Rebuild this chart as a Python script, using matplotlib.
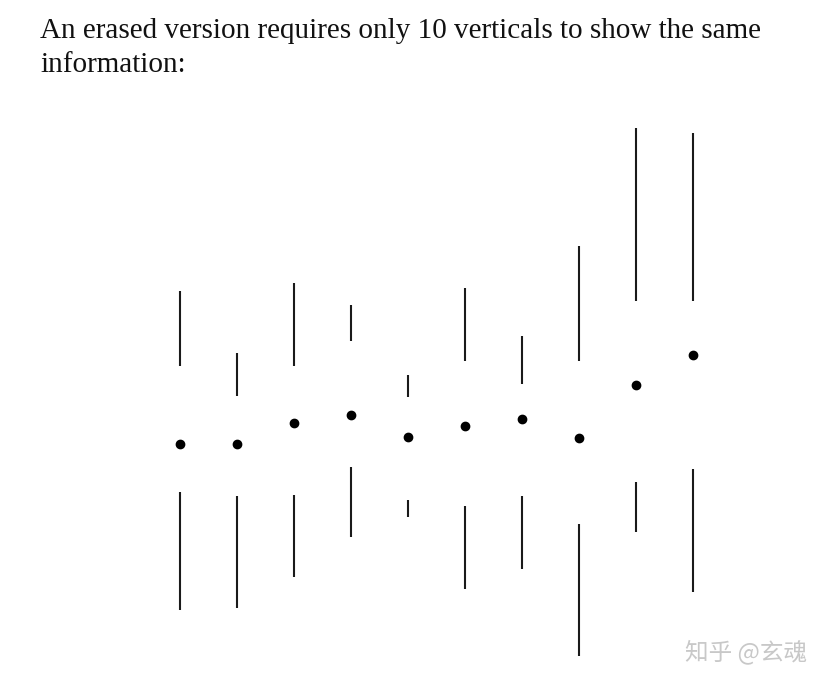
import matplotlib
matplotlib.use("Agg")
import matplotlib.pyplot as plt

# erased box plot: each column is max, q3, median, q1, min
positions = [1, 2, 3, 4, 5, 6, 7, 8, 9, 10]
maxs = [38.9, 32.7, 39.7, 37.5, 30.5, 39.2, 34.4, 43.4, 55.2, 54.7]
q3s = [31.4, 28.4, 31.4, 33.9, 28.3, 31.9, 29.6, 31.9, 37.9, 37.9]
medians = [23.6, 23.6, 25.7, 26.5, 24.3, 25.4, 26.1, 24.2, 29.5, 32.5]
q1s = [18.8, 18.4, 18.5, 21.3, 18.0, 17.4, 18.4, 15.6, 19.8, 21.1]
mins = [7.0, 7.2, 10.3, 14.3, 16.3, 9.1, 11.1, 2.4, 14.8, 8.8]

caption_lines = ["An erased version requires only 10 verticals to show the same",
                 "information:"]

fig = plt.figure(figsize=(8.34, 6.86), dpi=100)
ax = fig.add_axes([151.5 / 834, 6 / 686, 570 / 834, 600 / 686])

ax.vlines(positions, q3s, maxs, color="#1a1a1a", linewidth=1.5)
ax.vlines(positions, mins, q1s, color="#1a1a1a", linewidth=1.5)
ax.plot(positions, medians, "o", color="black", markersize=6)

ax.set_xlim(0.5, 10.5)
ax.set_ylim(0, 60)
ax.axis("off")

# caption, one text per line so the line gap can be set
for i, line in enumerate(caption_lines):
    fig.text(40 / 834, 1 - (38 + 34 * i) / 686, line, ha="left", va="baseline",
             fontsize=21, family="Liberation Serif", color="#111111")

# watermark
fig.text(807 / 834, 1 - 652 / 686, "知乎 @玄魂", ha="right", va="center",
         fontsize=17, family=["Noto Sans CJK SC", "DejaVu Sans"], color="#c8c8c8")

fig.savefig("out.png", dpi=100)
